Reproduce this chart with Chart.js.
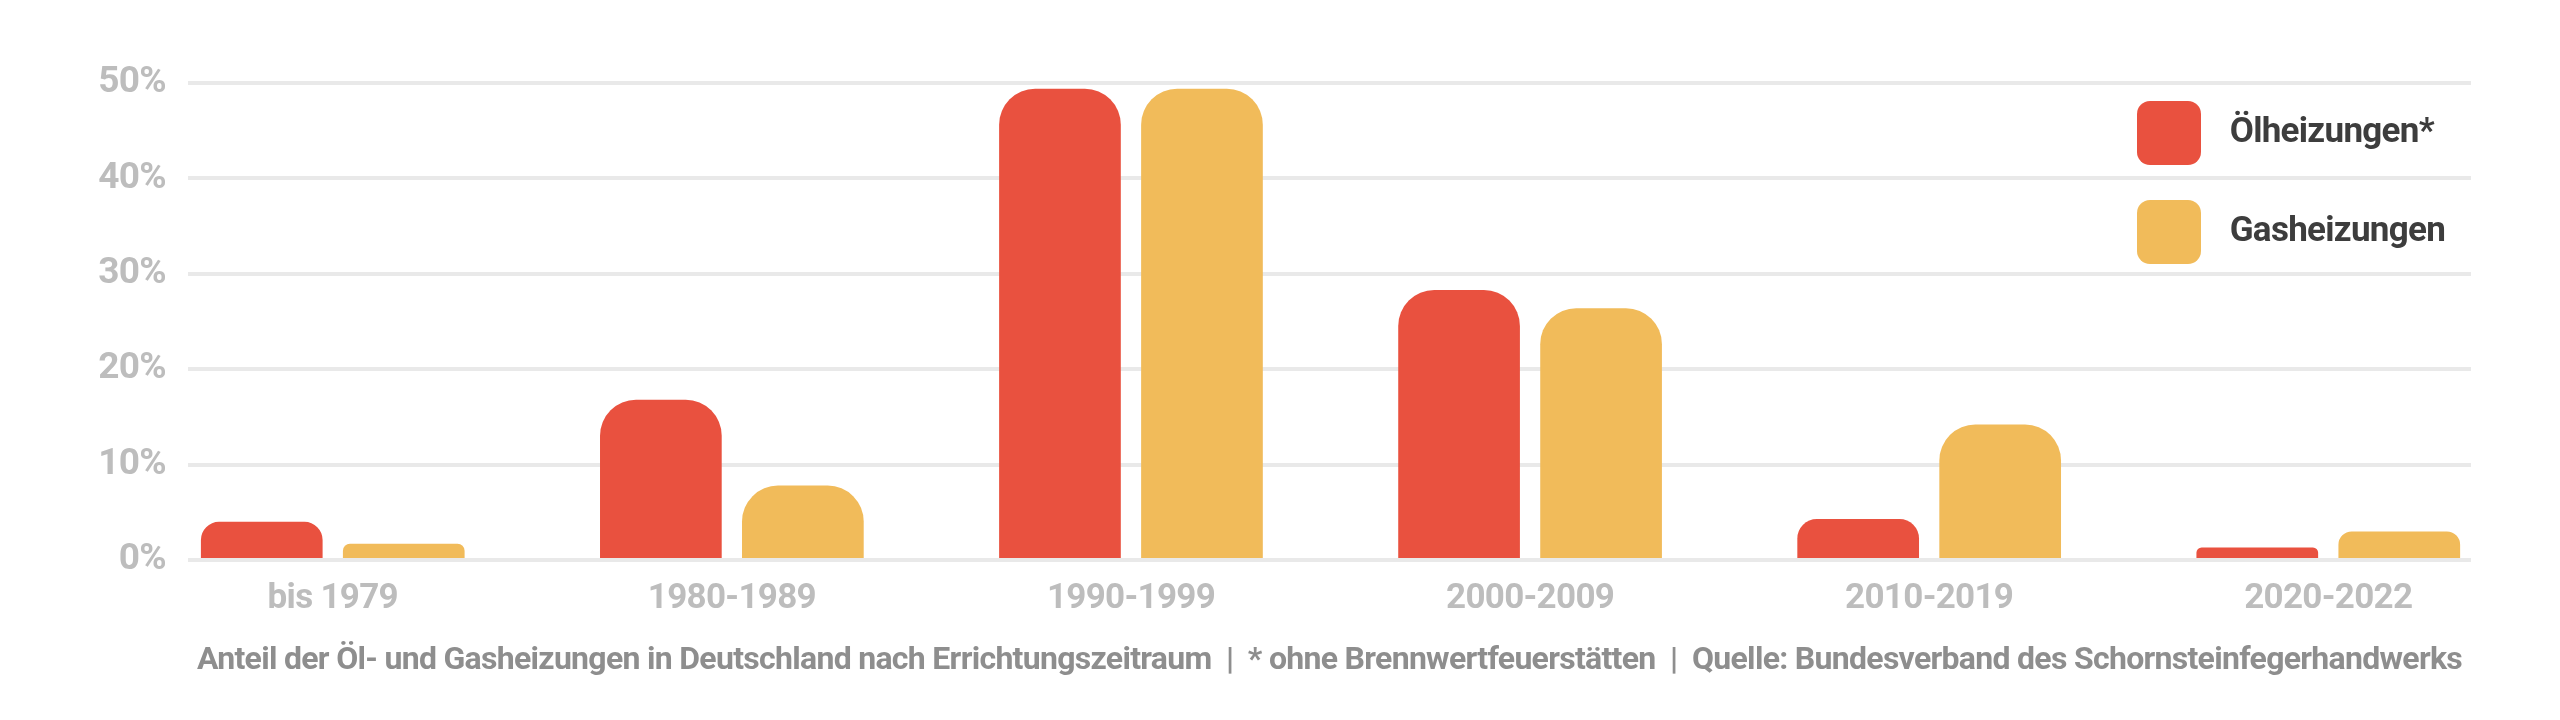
<!DOCTYPE html>
<html>
<head>
<meta charset="utf-8">
<script src="https://cdn.jsdelivr.net/npm/chart.js@4.4.1/dist/chart.umd.min.js"></script>
<style>
  html, body { margin: 0; padding: 0; background: #ffffff; }
  #wrap { width: 2560px; height: 720px; }
</style>
</head>
<body>
<div id="wrap"><canvas id="c" width="2560" height="720"></canvas></div>
<script>
const categories = ['bis 1979', '1980-1989', '1990-1999', '2000-2009', '2010-2019', '2020-2022'];
const oilShare = [4.0, 16.8, 49.4, 28.3, 4.3, 1.3];
const gasShare = [1.7, 7.8, 49.4, 26.4, 14.2, 3.0];
const seriesNames = ['Ölheizungen*', 'Gasheizungen'];
const yTicks = [0, 10, 20, 30, 40, 50];
const caption = 'Anteil der Öl- und Gasheizungen in Deutschland nach Errichtungszeitraum  |  * ohne Brennwertfeuerstätten  |  Quelle: Bundesverband des Schornsteinfegerhandwerks';

const FONT = "Roboto, 'Liberation Sans', sans-serif";

const legendPlacer = {
  id: 'legendPlacer',
  afterLayout(chart) {
    const lg = chart.legend;
    if (!lg) return;
    lg.left = 2102; lg.top = 66; lg.right = 2560; lg.bottom = 720;
    lg.width = lg.right - lg.left; lg.height = lg.bottom - lg.top;
  },
  beforeDraw(chart) {
    chart.ctx.letterSpacing = '-0.7px';
  }
};

new Chart(document.getElementById('c'), {
  type: 'bar',
  data: {
    datasets: [
      { label: seriesNames[0], data: oilShare.map((v, i) => ({ x: i, y: v })), backgroundColor: '#e9513f' },
      { label: seriesNames[1], data: gasShare.map((v, i) => ({ x: i, y: v })), backgroundColor: '#f1bb5a' }
    ]
  },
  options: {
    responsive: false,
    animation: false,
    devicePixelRatio: 1,
    categoryPercentage: 0.7116,
    barPercentage: 0.857,
    borderRadius: 36,
    borderSkipped: 'start',
    layout: { padding: { left: 0, right: 89, top: 83, bottom: 40 } },
    scales: {
      x: {
        type: 'linear',
        offset: false,
        min: -0.3627,
        max: 5.3576,
        grid: { display: false, drawTicks: false },
        border: { display: false },
        afterBuildTicks: (axis) => { axis.ticks = categories.map((_, i) => ({ value: i })); },
        afterFit: (axis) => { axis.height = 81.6; },
        ticks: {
          autoSkip: false,
          maxRotation: 0,
          padding: 18.6,
          color: '#bdbdbd',
          font: { family: FONT, size: 35, weight: 'bold' },
          callback: (v) => categories[v]
        }
      },
      y: {
        min: 0,
        max: 50,
        afterBuildTicks: (axis) => { axis.ticks = yTicks.map(v => ({ value: v })); },
        afterFit: (axis) => { axis.width = 188; },
        grid: { color: '#e9e9e9', lineWidth: 4, drawTicks: false },
        border: { display: false },
        ticks: {
          padding: 22,
          color: '#bdbdbd',
          font: { family: FONT, size: 37, weight: 'bold' },
          callback: (v) => v + '%'
        }
      }
    },
    plugins: {
      legend: {
        position: 'chartArea',
        align: 'start',
        labels: {
          boxWidth: 64,
          boxHeight: 64,
          padding: 35,
          useBorderRadius: true,
          borderRadius: 13,
          color: '#3d3d3d',
          font: { family: FONT, size: 35, weight: 'bold' },
          generateLabels: (chart) => Chart.defaults.plugins.legend.labels.generateLabels(chart).map(it => Object.assign(it, { text: '\u2004' + it.text, lineWidth: 0 }))
        }
      },
      title: {
        display: true,
        text: caption,
        position: 'bottom',
        fullSize: false,
        padding: 0,
        color: '#8e8e8e',
        font: { family: FONT, size: 32, weight: 'bold' }
      },
      tooltip: { enabled: false }
    }
  },
  plugins: [legendPlacer]
});
</script>
</body>
</html>
